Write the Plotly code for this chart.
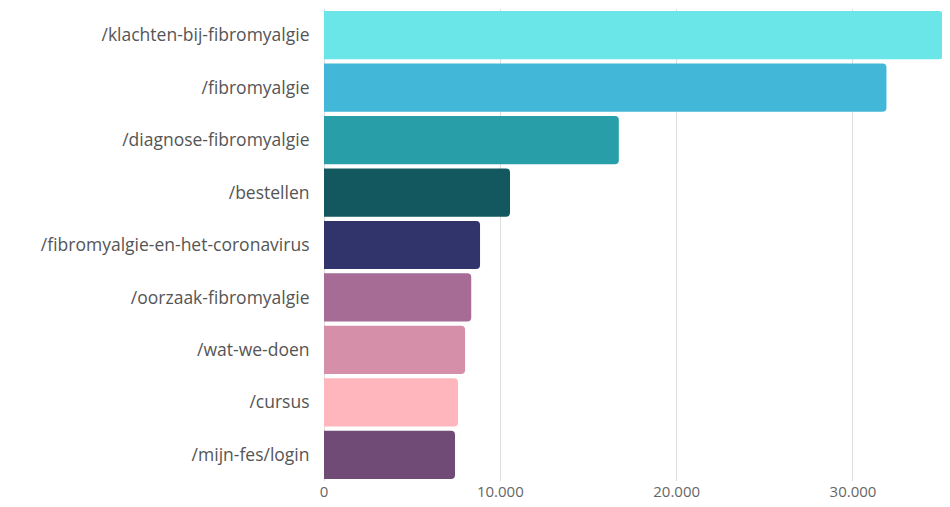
import plotly.graph_objects as go

categories = ["/klachten-bij-fibromyalgie", "/fibromyalgie", "/diagnose-fibromyalgie",
              "/bestellen", "/fibromyalgie-en-het-coronavirus", "/oorzaak-fibromyalgie",
              "/wat-we-doen", "/cursus", "/mijn-fes/login"]
values = [35100, 31900, 16720, 10550, 8850, 8350, 8000, 7600, 7430]
colors = ["#6ae6e9", "#42b7d7", "#289fa8", "#12585e", "#30346a",
          "#a66c95", "#d58fa8", "#ffb6bc", "#6f4b75"]
tickvals = [0, 10000, 20000, 30000]
ticktext = ["0", "10.000", "20.000", "30.000"]

fig = go.Figure(go.Bar(
    x=values, y=categories, orientation="h",
    marker=dict(color=colors, line=dict(width=0)),
))
fig.update_layout(
    width=942, height=499,
    margin=dict(l=316, r=5, t=1, b=26, autoexpand=False),
    plot_bgcolor="white", paper_bgcolor="white",
    bargap=0.08, barcornerradius=4,
    font=dict(family="Open Sans, sans-serif", size=16, color="#555555"),
    showlegend=False,
)
fig.update_xaxes(range=[0, 35220], tickvals=tickvals, ticktext=ticktext,
                 showgrid=True, gridcolor="#dddddd", gridwidth=1,
                 zeroline=True, zerolinecolor="#dddddd", zerolinewidth=1,
                 tickfont=dict(size=15, color="#666666"), ticks="", showline=False)
fig.update_yaxes(autorange="reversed", ticks="outside", ticklen=10, tickcolor="rgba(0,0,0,0)",
                 tickfont=dict(size=17.5, color="#555555"), showline=False)
fig.write_html("out.html")
